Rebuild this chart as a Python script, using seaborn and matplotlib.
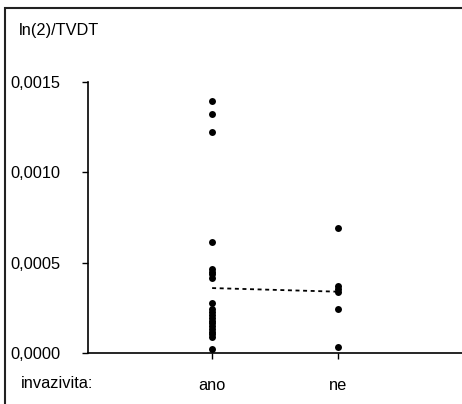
import matplotlib
matplotlib.use("Agg")
import matplotlib.pyplot as plt
import seaborn as sns
import pandas as pd
from matplotlib.patches import Rectangle

# ---- data ----
ano_values = [0.00139, 0.00132, 0.00122, 0.000615, 0.000465, 0.00045, 0.000435,
              0.000415, 0.00028, 0.000245, 0.00023, 0.00021, 0.000195, 0.00018,
              0.000165, 0.00015, 0.000135, 0.00012, 0.000105, 0.00009,
              0.000025]
ne_values = [0.000694, 0.000374, 0.000355, 0.000337, 0.000242, 0.000035]
categories = ["ano", "ne"]
mean_values = [0.00036, 0.00034]
y_ticks = [0.0, 0.0005, 0.0010, 0.0015]
y_tick_labels = ["0,0000", "0,0005", "0,0010", "0,0015"]
title_text = "ln(2)/TVDT"
xlabel_text = "invazivita:"

df = pd.DataFrame({
    "group": ["ano"] * len(ano_values) + ["ne"] * len(ne_values),
    "value": ano_values + ne_values,
})

sns.set_theme(style="white")
plt.rcParams["font.family"] = ["Liberation Sans", "DejaVu Sans"]

W, H = 462, 404
fig = plt.figure(figsize=(W / 100, H / 100), dpi=100)
ax = fig.add_axes([88 / W, 1 - 353.3 / H, (W - 88) / W, (353.3 - 81.5) / H])

sns.stripplot(data=df, x="group", y="value", order=categories, jitter=False,
              color="black", size=5.0, linewidth=0, ax=ax, zorder=3)
sns.lineplot(x=[0, 1], y=mean_values, color="black", linestyle=(0, (2.2, 2.0)),
             linewidth=1.3, ax=ax, zorder=2)

ax.set_xlim(-(212.3 - 88) / 126, (W - 88 + 0.5) / 126 - (212.3 - 88) / 126)
ax.set_ylim(0, 0.0015)
ax.set_yticks(y_ticks)
ax.set_yticklabels(y_tick_labels)
ax.set_xlabel("")
ax.set_ylabel("")
for s in ["top", "right"]:
    ax.spines[s].set_visible(False)
for s in ["left", "bottom"]:
    ax.spines[s].set_color("black")
    ax.spines[s].set_linewidth(1.2)
ax.tick_params(axis="y", direction="out", length=4, width=1.0, color="black",
               pad=16, labelsize=11.8, labelcolor="black", left=True)
ax.tick_params(axis="x", direction="out", length=4, width=1.0, color="black",
               pad=14, labelsize=11.8, labelcolor="black", bottom=True)

fig.text(19 / W, 1 - 30 / H, title_text, ha="left", va="center",
         fontsize=11.8, color="black")
fig.text(57 / W, 1 - 383 / H, xlabel_text, ha="center", va="center",
         fontsize=11.8, color="black")

fig.patches.append(Rectangle((5 / W, -0.1), 1.2, 1.1 - 8 / H,
                             transform=fig.transFigure, fill=False,
                             edgecolor="#222222", linewidth=1.5))

fig.savefig("out.png", dpi=100)
